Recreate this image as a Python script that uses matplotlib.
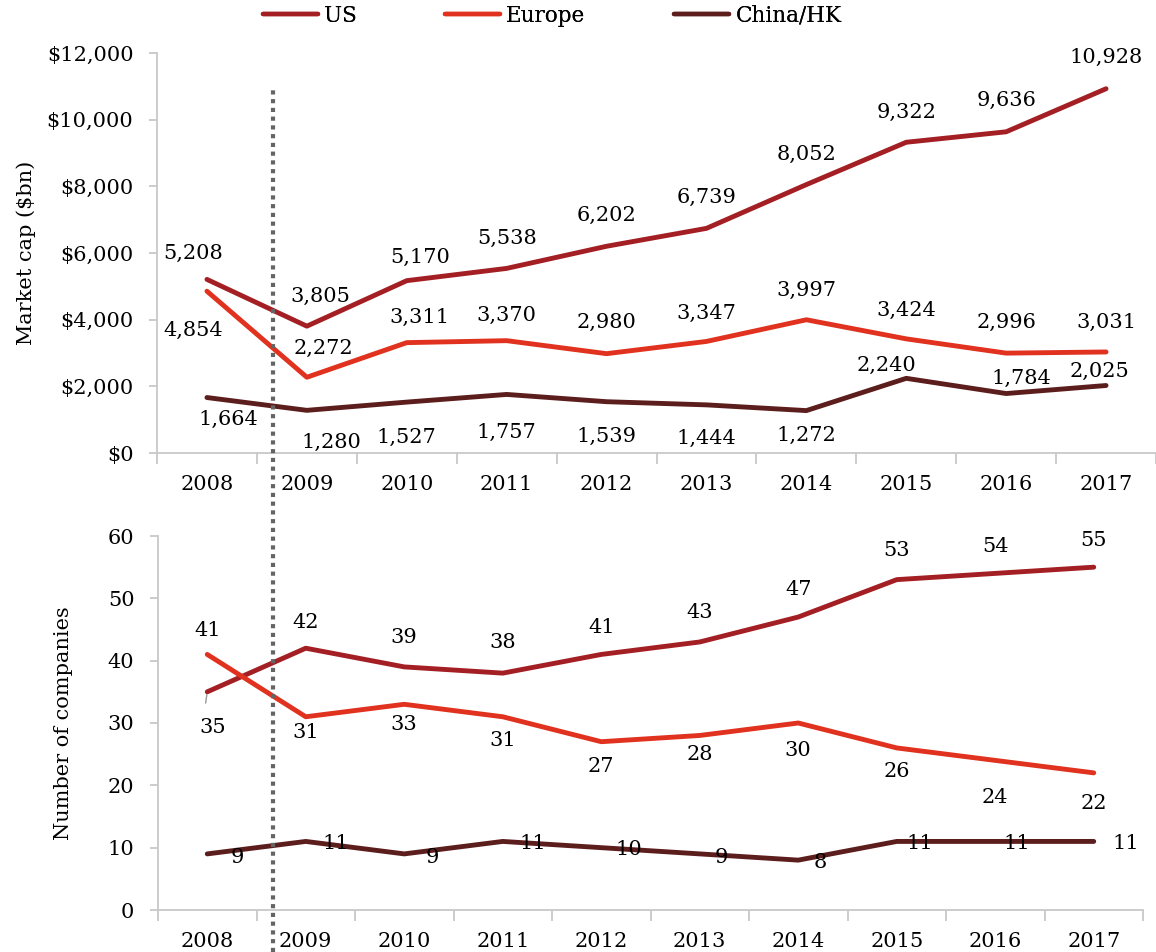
#market cap and company counts, US vs Europe vs China/HK, 2008-2017
import numpy as np
import matplotlib
matplotlib.use("Agg")
from matplotlib import pyplot as plt
from matplotlib.lines import Line2D
from matplotlib import transforms

plt.rcParams['font.family'] = ['DejaVu Serif']

years = ['2008', '2009', '2010', '2011', '2012', '2013', '2014', '2015', '2016', '2017']
series = ['US', 'Europe', 'China/HK']

#market cap in $bn
us_cap = [5208, 3805, 5170, 5538, 6202, 6739, 8052, 9322, 9636, 10928]
eu_cap = [4854, 2272, 3311, 3370, 2980, 3347, 3997, 3424, 2996, 3031]
cn_cap = [1664, 1280, 1527, 1757, 1539, 1444, 1272, 2240, 1784, 2025]

#number of companies
us_n = [35, 42, 39, 38, 41, 43, 47, 53, 54, 55]
eu_n = [41, 31, 33, 31, 27, 28, 30, 26, 24, 22]
cn_n = [9, 11, 9, 11, 10, 9, 8, 11, 11, 11]

#label offsets in pixels (dx, dy) relative to each point, dy positive = down
us_cap_off = [(-14, -26), (13, -30), (13, -23), (0, -30), (0, -31), (0, -31), (0, -30), (0, -30), (0, -31), (0, -31)]
eu_cap_off = [(-14, 39), (17, -29), (13, -25), (0, -25), (0, -31), (0, -28), (0, -29), (0, -28), (0, -31), (0, -30)]
cn_cap_off = [(21, 22), (25, 32), (0, 35), (0, 38), (0, 35), (0, 34), (0, 25), (-20, -13), (15, -15), (-7, -14)]
us_n_off = [(5, 36), (0, -26), (0, -29), (0, -31), (0, -27), (0, -29), (0, -28), (0, -29), (0, -27), (0, -27)]
eu_n_off = [(0, -24), (0, 16), (0, 20), (0, 24), (0, 25), (0, 19), (0, 27), (0, 24), (0, 37), (0, 31)]
cn_n_off = [(30, 4), (30, 2), (28, 4), (30, 2), (28, 2), (22, 4), (22, 2), (23, 2), (22, 2), (32, 2)]

US_C = '#A31F24'
EU_C = '#E0321F'
CN_C = '#5C1E1C'
GRID_C = '#C8C8C8'
FS = 15

W, H = 1156, 952
fig = plt.figure(figsize=(W/100, H/100), dpi=100)

ax1 = fig.add_axes([157/W, 1-453/H, (1156-157)/W, 400/H])
ax2 = fig.add_axes([158/W, 1-910/H, (1143-158)/W, 374/H])

x = np.arange(len(years))

def style_axis(ax):
    for s in ['top', 'right']:
        ax.spines[s].set_visible(False)
    for s in ['left', 'bottom']:
        ax.spines[s].set_color(GRID_C)
        ax.spines[s].set_linewidth(1.3)
    ax.set_xlim(-0.5, len(years) - 0.5)
    ax.set_xticks(x)
    ax.set_xticklabels(years, fontsize=FS)
    ax.set_xticks(np.arange(-0.5, len(years)), minor=True)
    ax.tick_params(axis='x', which='major', length=0, pad=15.5)
    ax.tick_params(axis='x', which='minor', length=8, color=GRID_C, width=1.3)
    ax.tick_params(axis='y', length=6, color=GRID_C, width=1.3, pad=11, labelsize=FS)

def draw(ax, vals, offs, color, fmt):
    ax.plot(x, vals, color=color, linewidth=3.5, solid_capstyle='round', solid_joinstyle='round', clip_on=False)
    for xi, v, (dx, dy) in zip(x, vals, offs):
        ax.annotate(fmt(v), (xi, v), xytext=(dx, -dy), textcoords='offset pixels',
                    ha='center', va='center', fontsize=FS, annotation_clip=False)

#top panel
style_axis(ax1)
ax1.set_ylim(0, 12000)
ax1.set_yticks(np.arange(0, 12001, 2000))
ax1.set_yticklabels(['${:,}'.format(t) for t in range(0, 12001, 2000)])
ax1.set_ylabel('Market cap ($bn)', fontsize=FS)
draw(ax1, us_cap, us_cap_off, US_C, lambda v: '{:,}'.format(v))
draw(ax1, eu_cap, eu_cap_off, EU_C, lambda v: '{:,}'.format(v))
draw(ax1, cn_cap, cn_cap_off, CN_C, lambda v: '{:,}'.format(v))
ax1.yaxis.set_label_coords(-0.121, 0.5)

#bottom panel
style_axis(ax2)
ax2.set_ylim(0, 60)
ax2.set_yticks(np.arange(0, 61, 10))
ax2.set_ylabel('Number of companies', fontsize=FS)
draw(ax2, us_n, us_n_off, US_C, str)
draw(ax2, eu_n, eu_n_off, EU_C, str)
draw(ax2, cn_n, cn_n_off, CN_C, str)
ax2.yaxis.set_label_coords(-0.086, 0.5)

#leader line for the 2008 US label in the bottom panel
ax2.annotate('', (0, us_n[0]), xytext=(-2, -14), textcoords='offset pixels',
             arrowprops=dict(arrowstyle='-', color='#999999', lw=1))

#dotted divider between 2008 and 2009 running through both panels
divider = 0.66
tr = transforms.blended_transform_factory(ax1.transData, fig.transFigure)
fig.add_artist(Line2D([divider, divider], [0, 1-90/H], transform=tr,
                      color='#646464', linewidth=3, linestyle=(0, (1, 1.1))))

#legend - one entry each so they sit where the original has them
leg_x = [263, 445, 674]
for name, col, lx in zip(series, [US_C, EU_C, CN_C], leg_x):
    h = Line2D([], [], color=col, lw=3.2, solid_capstyle='round')
    leg = fig.legend([h], [name], loc='upper left', bbox_to_anchor=(lx/W, 1-5/H),
                     frameon=False, fontsize=15.5, handlelength=2.55, handletextpad=0.3,
                     borderpad=0, borderaxespad=0)
    fig.add_artist(leg)

plt.savefig('out.png', dpi=100)
